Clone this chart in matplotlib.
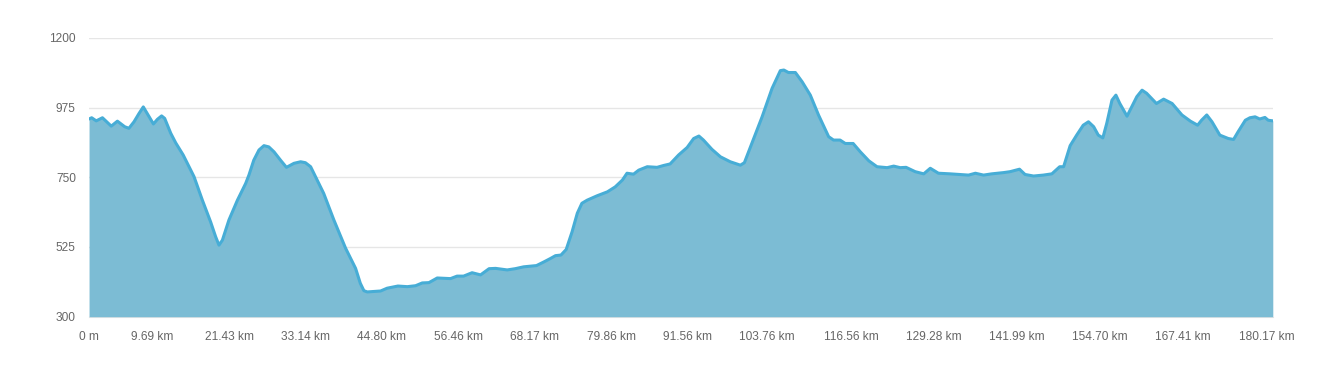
import matplotlib
matplotlib.use("Agg")
import matplotlib.pyplot as plt

# ----- Matplotlib settings -----
plt.rcParams["font.family"] = ["Liberation Sans", "DejaVu Sans"]
plt.rcParams["font.size"] = 8.6

# distance along the route (km) and elevation (m)
distance_km = [
    0.0, 0.4, 1.1, 2.05, 2.7, 3.4, 4.34, 5.46, 6.1, 6.88, 7.65, 8.3,
    9.33, 9.85, 10.46, 11.1, 11.57, 12.5, 13.26, 14.4, 16.06, 17.34, 18.6,
    19.37, 19.88, 20.4, 21.4, 22.7, 23.96, 24.46, 25.2, 26.0, 26.76, 27.5,
    28.3, 29.3, 30.2, 31.35, 32.37, 33.1, 33.9, 34.9, 35.9, 37.46, 39.25,
    40.78, 41.5, 42.05, 42.57, 44.6, 45.6, 47.25, 48.7, 49.95, 50.98, 52.0,
    53.27, 55.3, 56.3, 57.3, 58.6, 59.9, 61.2, 62.2, 63.97, 65.2, 66.5,
    68.45, 69.6, 70.6, 71.36, 72.2, 73.0, 73.9, 74.7, 75.4, 76.2, 77.7,
    79.3, 80.5, 81.6, 82.3, 83.3, 84.1, 85.4, 86.9, 87.9, 88.9, 90.2, 91.5,
    92.5, 93.3, 94.0, 95.3, 96.6, 98.1, 99.65, 100.26, 101.4, 102.97,
    104.5, 105.76, 106.3, 107.0, 108.06, 109.1, 110.35, 111.6, 113.15,
    113.9, 114.9, 115.7, 116.9, 118.0, 119.3, 120.55, 122.1, 123.1, 124.1,
    125.0, 126.4, 127.7, 128.7, 129.95, 131.75, 134.55, 135.6, 136.85,
    138.1, 139.9, 140.9, 142.35, 143.2, 144.5, 146.0, 147.3, 148.5, 149.1,
    150.1, 151.1, 152.1, 152.9, 153.7, 154.4, 155.1, 155.7, 156.5, 157.1,
    157.7, 158.8, 160.3, 161.1, 161.8, 163.3, 164.4, 165.7, 167.2, 168.5,
    169.6, 170.2, 171.0, 171.8, 173.0, 174.3, 175.1, 175.8, 176.9, 177.6,
    178.4, 179.1, 179.9, 180.4, 181.1,
]
elevation_m = [
    938, 942, 932, 942, 929, 915, 931, 913, 908, 929, 956, 977,
    940, 922, 937, 948, 940, 892, 861, 822, 752, 676, 606,
    558, 531, 547, 612, 676, 730, 757, 805, 838, 852, 848,
    832, 805, 782, 795, 800, 797, 784, 741, 698, 612, 521,
    456, 408, 384, 380, 383, 392, 399, 397, 400, 409, 410,
    425, 423, 431, 431, 442, 435, 455, 456, 451, 455, 461,
    465, 477, 488, 497, 499, 517, 574, 634, 666, 676, 690,
    703, 719, 741, 763, 760, 773, 784, 782, 788, 793, 822, 846,
    875, 883, 870, 840, 816, 800, 789, 797, 859, 945,
    1037, 1094, 1096, 1088, 1088, 1058, 1015, 951, 881,
    870, 870, 859, 859, 832, 803, 784, 781, 786, 781,
    782, 768, 761, 779, 763, 761, 757, 763, 757,
    761, 765, 768, 776, 759, 754, 757, 761, 784, 784,
    852, 886, 918, 929, 913, 886, 877, 924, 999, 1015,
    988, 947, 1010, 1031, 1021, 988, 1002, 988, 951, 931,
    918, 934, 951, 929, 886, 875, 872, 897, 934, 942,
    945, 938, 943, 934, 932,
]

tick_km = [0, 9.69, 21.43, 33.14, 44.80, 56.46, 68.17, 79.86, 91.56,
           103.76, 116.56, 129.28, 141.99, 154.70, 167.41, 180.17]
tick_labels = ["0 m"] + [f"{v:.2f} km" for v in tick_km[1:]]
y_ticks = [300, 525, 750, 975, 1200]

FILL_COLOR = "#7cbcd4"
LINE_COLOR = "#47add6"
GRID_COLOR = "#e6e6e6"
TEXT_COLOR = "#666666"

fig = plt.figure(figsize=(13.29, 3.67), dpi=100)
ax = fig.add_axes([0.067, 0.137, 0.8907, 0.760])

ax.fill_between(distance_km, elevation_m, 300, color=FILL_COLOR, lw=0, zorder=2)
ax.plot(distance_km, elevation_m, color=LINE_COLOR, lw=2.2,
        solid_joinstyle="round", solid_capstyle="round", zorder=3)

ax.set_xlim(0, distance_km[-1])
ax.set_ylim(300, 1200)
ax.set_yticks(y_ticks)
ax.set_yticklabels([str(v) for v in y_ticks])
ax.set_xticks(tick_km)
ax.set_xticklabels(tick_labels)

ax.grid(axis="y", color=GRID_COLOR, lw=1, zorder=0)
ax.grid(axis="x", visible=False)
for side in ["top", "right", "left"]:
    ax.spines[side].set_visible(False)
ax.spines["bottom"].set_color(GRID_COLOR)
ax.spines["bottom"].set_zorder(1)

ax.tick_params(axis="both", length=0, colors=TEXT_COLOR, labelsize=8.6)
ax.tick_params(axis="y", pad=9.5)
ax.tick_params(axis="x", pad=10.5)

plt.savefig("out.png", dpi=100)
